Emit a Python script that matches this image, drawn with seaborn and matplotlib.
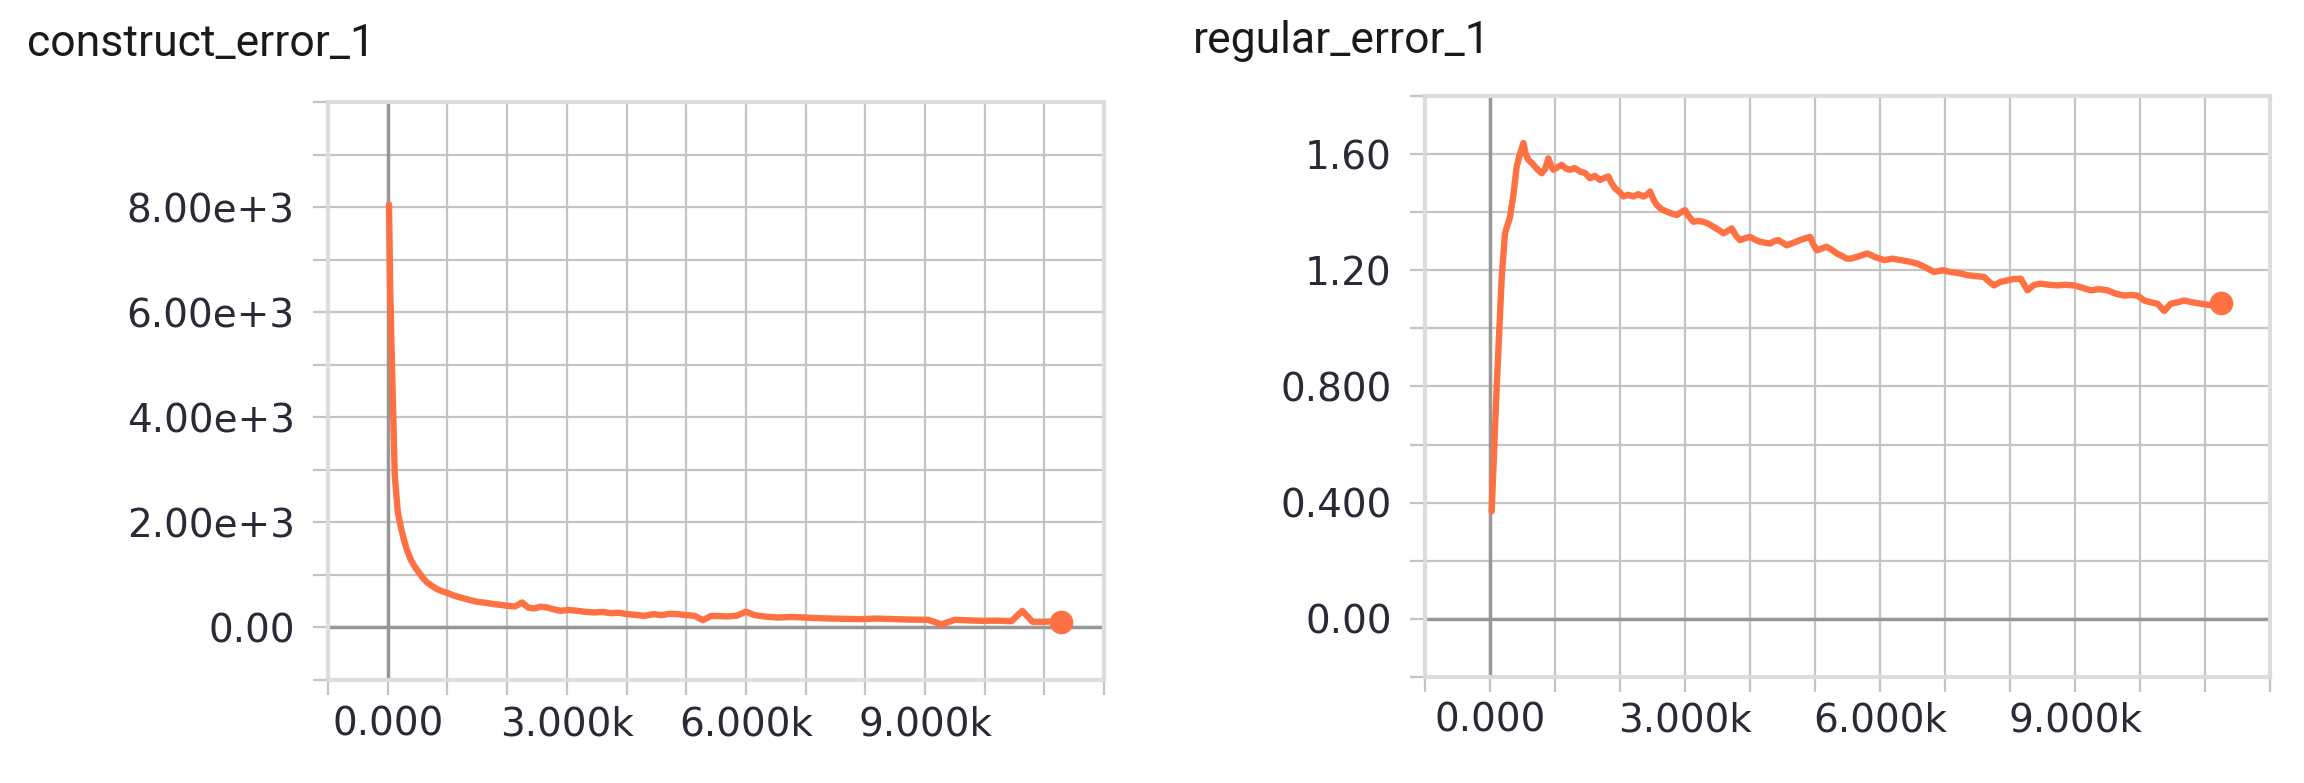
import numpy as np
import matplotlib
matplotlib.use("Agg")
import matplotlib.pyplot as plt
import seaborn as sns
from matplotlib.ticker import FixedLocator, FuncFormatter

# construct_error_1
construct_steps = [20, 40, 62, 90, 117, 168, 220, 268, 320, 380, 450, 520, 590, 659, 740,
                   827, 910, 1006, 1100, 1218, 1350, 1497, 1640, 1777, 1900, 2000, 2130, 2251,
                   2350, 2447, 2560, 2670, 2780, 2894, 3030, 3173, 3300, 3453, 3600, 3732, 3870,
                   4011, 4150, 4291, 4458, 4581, 4720, 4860, 5000, 5140, 5280, 5419, 5560, 5698,
                   5850, 6000, 6145, 6340, 6536, 6760, 6983, 7180, 7374, 7650, 7933, 8200, 8492,
                   8770, 9050, 9280, 9497, 9730, 9955, 10200, 10450, 10629, 10800, 10966, 11120,
                   11270]
construct_values = [8050, 6450, 5370, 4100, 2900, 2190, 1900, 1683, 1480, 1302, 1160, 1048, 940,
                    857, 790, 730, 690, 654, 610, 571, 530, 489, 470, 444, 430, 413, 400, 476, 380,
                    362, 395, 381, 345, 317, 335, 317, 300, 286, 295, 273, 280, 254, 240, 222, 254,
                    235, 260, 254, 235, 222, 140, 222, 215, 210, 225, 300, 235, 205, 190, 200, 190,
                    180, 171, 165, 159, 170, 159, 150, 146, 60, 146, 135, 127, 130, 120, 317, 110,
                    108, 115, 108]

# regular_error_1
regular_steps = [25, 60, 100, 140, 180, 230, 308, 360, 410, 460, 513, 550, 590, 640, 692, 740,
                 795, 850, 897, 940, 975, 1040, 1103, 1170, 1231, 1300, 1385, 1460, 1538, 1610,
                 1692, 1760, 1820, 1870, 1923, 1990, 2051, 2130, 2205, 2280, 2359, 2410, 2462,
                 2510, 2564, 2640, 2718, 2800, 2872, 2940, 3000, 3060, 3128, 3200, 3282, 3360,
                 3436, 3510, 3590, 3650, 3718, 3780, 3846, 3920, 4000, 4080, 4154, 4230, 4308,
                 4370, 4436, 4500, 4564, 4670, 4769, 4850, 4923, 4970, 5026, 5100, 5179, 5260,
                 5333, 5410, 5487, 5549, 5641, 5805, 5930, 6062, 6190, 6318, 6450, 6574, 6700,
                 6831, 6960, 7087, 7220, 7344, 7470, 7600, 7680, 7754, 7850, 7959, 8060, 8164,
                 8267, 8370, 8472, 8600, 8728, 8850, 8985, 9110, 9241, 9370, 9497, 9620, 9754,
                 9860, 9959, 10062, 10160, 10267, 10370, 10472, 10580, 10677, 10800, 10933,
                 11080, 11241]
regular_values = [0.37, 0.56, 0.785, 0.98, 1.177, 1.327, 1.384, 1.46, 1.557, 1.60, 1.638, 1.60,
                  1.58, 1.57, 1.557, 1.545, 1.534, 1.55, 1.585, 1.56, 1.546, 1.555, 1.563, 1.55,
                  1.546, 1.552, 1.54, 1.535, 1.517, 1.525, 1.511, 1.518, 1.523, 1.50, 1.482,
                  1.47, 1.454, 1.46, 1.454, 1.462, 1.454, 1.46, 1.471, 1.445, 1.425, 1.41, 1.402,
                  1.395, 1.39, 1.40, 1.407, 1.385, 1.367, 1.37, 1.367, 1.36, 1.35, 1.34, 1.327,
                  1.335, 1.344, 1.32, 1.304, 1.31, 1.315, 1.305, 1.298, 1.295, 1.292, 1.30, 1.304,
                  1.295, 1.286, 1.295, 1.304, 1.31, 1.315, 1.29, 1.269, 1.275, 1.281, 1.27, 1.258,
                  1.25, 1.24, 1.24, 1.246, 1.258, 1.245, 1.235, 1.24, 1.235, 1.23, 1.223, 1.21,
                  1.194, 1.20, 1.194, 1.19, 1.183, 1.18, 1.177, 1.16, 1.148, 1.16, 1.165, 1.17,
                  1.171, 1.131, 1.15, 1.154, 1.15, 1.148, 1.15, 1.148, 1.14, 1.131, 1.135, 1.131,
                  1.12, 1.113, 1.115, 1.113, 1.096, 1.09, 1.085, 1.06, 1.085, 1.09, 1.096, 1.09,
                  1.085, 1.08, 1.087]

# tick labels shown on the axes
x_label_steps = [0, 3000, 6000, 9000]
x_label_text = ["0.000", "3.000k", "6.000k", "9.000k"]
construct_label_vals = [0, 2000, 4000, 6000, 8000]
construct_label_text = ["0.00", "2.00e+3", "4.00e+3", "6.00e+3", "8.00e+3"]
regular_label_vals = [0.0, 0.4, 0.8, 1.2, 1.6]
regular_label_text = ["0.00", "0.400", "0.800", "1.20", "1.60"]

LINE_COLOR = "#ff7043"
GRID_COLOR = "#c4c4c4"
EDGE_COLOR = "#dcdcdc"
ZERO_COLOR = "#979797"
TEXT_COLOR = "#2a2a36"

sns.set_theme(style="whitegrid")
plt.rcParams["font.family"] = ["DejaVu Sans"]


def label_formatter(vals, texts):
    lookup = {round(v, 6): t for v, t in zip(vals, texts)}
    return FuncFormatter(lambda v, pos: lookup.get(round(v, 6), ""))


def draw_panel(ax, steps, values, ylim, ygrid, ylabels, ytexts):
    ax.set_facecolor("white")
    ax.set_xlim(-1000, 12000)
    ax.set_ylim(*ylim)

    ax.xaxis.set_major_locator(FixedLocator(np.arange(-1000, 12001, 1000)))
    ax.yaxis.set_major_locator(FixedLocator(ygrid))
    ax.xaxis.set_major_formatter(label_formatter(x_label_steps, x_label_text))
    ax.yaxis.set_major_formatter(label_formatter(ylabels, ytexts))

    ax.grid(True, color=GRID_COLOR, linewidth=1.6, zorder=0)
    ax.tick_params(axis="both", which="major", length=11, width=1.6, color=GRID_COLOR,
                   labelsize=28, labelcolor=TEXT_COLOR, direction="out",
                   bottom=True, left=True)
    ax.tick_params(axis="x", pad=7)
    ax.tick_params(axis="y", pad=13)
    for side in ["top", "bottom", "left", "right"]:
        ax.spines[side].set_visible(True)
        ax.spines[side].set_color(EDGE_COLOR)
        ax.spines[side].set_linewidth(3)

    ax.axhline(0, color=ZERO_COLOR, linewidth=2.5, zorder=1)
    ax.axvline(0, color=ZERO_COLOR, linewidth=2.5, zorder=1)

    sns.lineplot(x=steps, y=values, ax=ax, color=LINE_COLOR, linewidth=4.6, zorder=3)
    ax.plot(steps[-1], values[-1], "o", color=LINE_COLOR, markersize=16, zorder=4, clip_on=False)
    ax.set_xlabel("")
    ax.set_ylabel("")


fig = plt.figure(figsize=(23.04, 7.83), dpi=100)
ax1 = fig.add_axes([0.1424, 0.1315, 0.3368, 0.7382])
ax2 = fig.add_axes([0.6185, 0.1354, 0.3668, 0.742])

draw_panel(ax1, construct_steps, construct_values, (-1000, 10000),
           np.arange(-1000, 10001, 1000), construct_label_vals, construct_label_text)
draw_panel(ax2, regular_steps, regular_values, (-0.2, 1.8),
           np.round(np.arange(-0.2, 1.81, 0.2), 1), regular_label_vals, regular_label_text)

fig.text(27 / 2304, 1 - 56 / 783, "construct_error_1", fontsize=32, family="Roboto",
         color="#1a1a1a", va="baseline", ha="left")
fig.text(1193 / 2304, 1 - 53 / 783, "regular_error_1", fontsize=32, family="Roboto",
         color="#1a1a1a", va="baseline", ha="left")

fig.savefig("out.png", dpi=100, facecolor="white")
